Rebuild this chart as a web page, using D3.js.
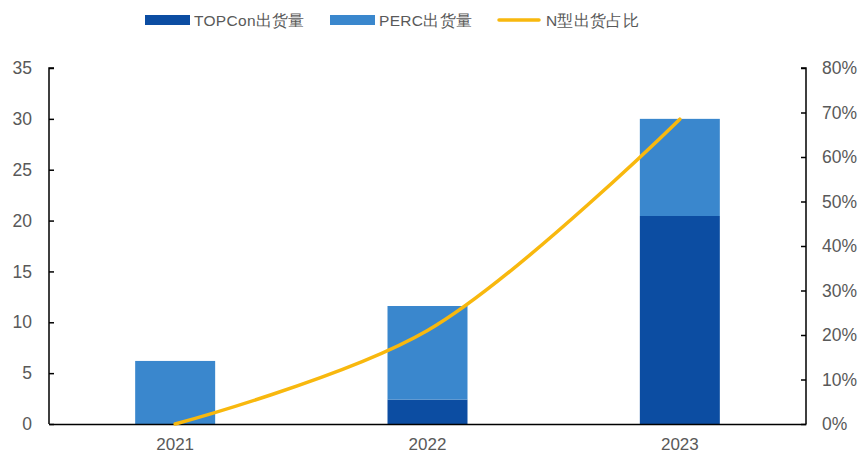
<!DOCTYPE html>
<html>
<head>
<meta charset="utf-8">
<script src="https://cdn.jsdelivr.net/npm/d3@7"></script>
<style>
  html, body { margin: 0; padding: 0; background: #fff; }
  svg { display: block; font-family: "Liberation Sans", Arial, sans-serif; }
</style>
</head>
<body>
<svg id="chart" width="865" height="455"></svg>
<script>
// Shipments (GW) by year and N-type share of shipments
const years = ["2021", "2022", "2023"];
const topconShip = [0, 2.4, 20.45];
const percShip = [6.2, 9.2, 9.55];
const nTypeShare = [0, 0.21, 0.685];
const leftTicks = [0, 5, 10, 15, 20, 25, 30, 35];
const rightTicks = [0, 0.1, 0.2, 0.3, 0.4, 0.5, 0.6, 0.7, 0.8];
const seriesNames = ["TOPCon出货量", "PERC出货量", "N型出货占比"];
const colors = { topcon: "#0c4da2", perc: "#3a87cd", share: "#f8b80e" };

const svg = d3.select("#chart");
const margin = { left: 49, right: 59, top: 68, bottom: 31 };
const W = 865, H = 455;
const x0 = margin.left, x1 = W - margin.right;
const yBottom = H - margin.bottom, yTop = margin.top;

const x = d3.scaleBand().domain(years).range([x0, x1]).paddingInner(0.683).paddingOuter(0.3415);
const yL = d3.scaleLinear().domain([0, 35]).range([yBottom, yTop]);
const yR = d3.scaleLinear().domain([0, 0.8]).range([yBottom, yTop]);

const textColor = "#595959";
const tickFont = "17.5px";

// stacked bars
const rows = years.map((yr, i) => ({ year: yr, topcon: topconShip[i], perc: percShip[i] }));
const stack = d3.stack().keys(["topcon", "perc"])(rows);
svg.append("g").selectAll("g").data(stack).join("g")
  .attr("fill", d => colors[d.key])
  .selectAll("rect").data(d => d).join("rect")
  .attr("x", d => x(d.data.year))
  .attr("width", x.bandwidth())
  .attr("y", d => yL(d[1]))
  .attr("height", d => yL(d[0]) - yL(d[1]));

// left axis
const gL = svg.append("g").attr("transform", `translate(${x0},0)`)
  .call(d3.axisRight(yL).tickValues(leftTicks).tickSize(5).tickFormat(d3.format("d")));
gL.select(".domain").attr("stroke", "#000").attr("stroke-width", 1.5).attr("d", `M5,${yTop}H0V${yBottom}`);
gL.selectAll(".tick line").attr("stroke", "#000").attr("stroke-width", 1.5);
gL.selectAll(".tick text").attr("x", -17).attr("text-anchor", "end")
  .attr("fill", textColor).style("font-size", tickFont);

// right axis
const gR = svg.append("g").attr("transform", `translate(${x1},0)`)
  .call(d3.axisLeft(yR).tickValues(rightTicks).tickSize(5).tickFormat(d3.format(".0%")));
gR.select(".domain").attr("stroke", "#000").attr("stroke-width", 1.5).attr("d", `M-5,${yTop}H0V${yBottom}`);
gR.selectAll(".tick line").attr("stroke", "#000").attr("stroke-width", 1.5);
gR.selectAll(".tick text").attr("x", 16).attr("text-anchor", "start")
  .attr("fill", textColor).style("font-size", tickFont);

// bottom axis
const gB = svg.append("g").attr("transform", `translate(0,${yBottom})`)
  .call(d3.axisBottom(x).tickSize(0));
gB.select(".domain").attr("stroke", "#000").attr("stroke-width", 1.5);
gB.selectAll(".tick text").attr("y", 26).attr("dy", 0).attr("fill", textColor).style("font-size", "17px");

// share line
const line = d3.line()
  .x((d, i) => x(years[i]) + x.bandwidth() / 2)
  .y(d => yR(d))
  .curve(d3.curveCatmullRom.alpha(0.5));
svg.append("path").datum(nTypeShare)
  .attr("fill", "none").attr("stroke", colors.share).attr("stroke-width", 3.5)
  .attr("stroke-linecap", "round").attr("d", line);

// legend
const legend = svg.append("g").style("font-size", "15.5px");
const items = [
  { name: seriesNames[0], type: "rect", color: colors.topcon, x: 145 },
  { name: seriesNames[1], type: "rect", color: colors.perc, x: 330 },
  { name: seriesNames[2], type: "line", color: colors.share, x: 497 }
];
items.forEach(it => {
  if (it.type === "rect") {
    legend.append("rect").attr("x", it.x).attr("y", 15).attr("width", 45).attr("height", 10).attr("fill", it.color);
  } else {
    legend.append("line").attr("x1", it.x + 2).attr("x2", it.x + 42).attr("y1", 20).attr("y2", 20)
      .attr("stroke", it.color).attr("stroke-width", 3.5).attr("stroke-linecap", "round");
  }
  legend.append("text").attr("x", it.x + 49).attr("y", 26).attr("fill", textColor)
    .style("letter-spacing", "0.3px").text(it.name);
});
</script>
</body>
</html>
